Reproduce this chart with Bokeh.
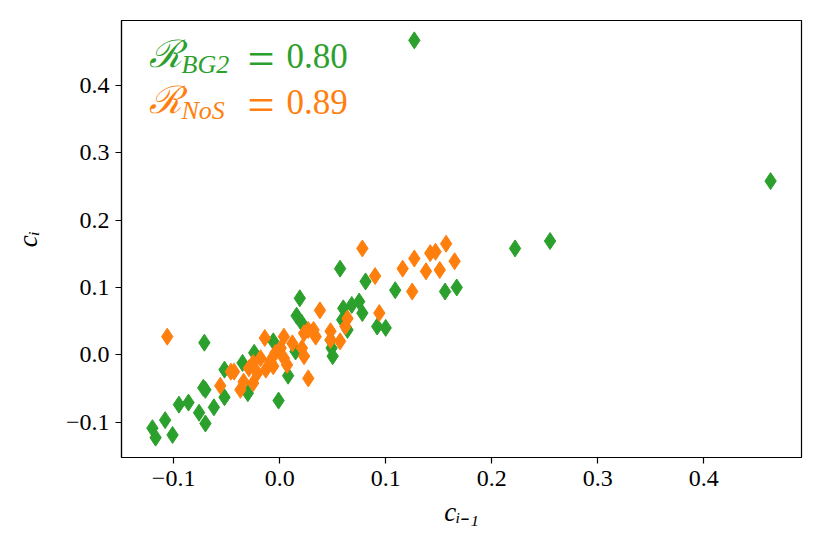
from bokeh.plotting import figure
from bokeh.models import Label, FixedTicker, Range1d, ColumnDataSource
from bokeh.embed import file_html
from bokeh.resources import INLINE

# ---- data ----
bg2_prev = [0.127, 0.463, 0.255, 0.222, 0.167, 0.156, 0.109, 0.100, 0.092,
            0.081, 0.057, 0.060, 0.068, 0.075, 0.078, 0.059, 0.064, 0.048,
            0.049, 0.050, 0.019, 0.016, 0.021, 0.015, 0.008, -0.001, -0.006,
            -0.024, -0.035, -0.030, -0.052, -0.052, -0.062, -0.072, -0.070,
            -0.071, -0.076, -0.070, -0.086, -0.095, -0.101, -0.108, -0.117,
            -0.120]
bg2_curr = [0.467, 0.258, 0.169, 0.158, 0.100, 0.094, 0.096, 0.040, 0.042,
            0.109, 0.128, 0.069, 0.074, 0.079, 0.062, 0.052, 0.037, 0.022,
            0.010, -0.002, 0.084, 0.058, 0.047, 0.005, -0.031, -0.068, 0.020,
            0.003, -0.012, -0.057, -0.022, -0.063, -0.078, -0.049, -0.052,
            0.018, -0.086, -0.102, -0.071, -0.074, -0.119, -0.097, -0.123,
            -0.109]

nos_prev = [-0.106, -0.056, -0.046, -0.037, -0.034, -0.025, -0.043, -0.029,
            -0.025, -0.021, -0.018, -0.013, -0.014, -0.009, -0.006, -0.004,
            0.001, 0.004, 0.004, 0.007, 0.012, 0.021, 0.023, 0.023, 0.027,
            0.032, 0.034, 0.027, 0.038, 0.048, 0.048, 0.057, 0.062, 0.064,
            0.078, 0.090, 0.094, 0.116, 0.125, 0.127, 0.138, 0.142, 0.147,
            0.151, 0.157, 0.165]
nos_curr = [0.027, -0.046, -0.025, -0.052, -0.040, -0.042, -0.025, -0.020,
            -0.012, -0.027, -0.005, -0.022, 0.025, -0.010, -0.017, 0.003,
            0.010, 0.027, -0.005, -0.015, 0.017, 0.010, -0.002, 0.032, 0.037,
            0.037, 0.027, -0.035, 0.066, 0.035, 0.022, 0.020, 0.042, 0.054,
            0.158, 0.117, 0.062, 0.128, 0.094, 0.143, 0.124, 0.151, 0.153,
            0.126, 0.165, 0.139]

x_ticks = [-0.1, 0.0, 0.1, 0.2, 0.3, 0.4]
x_tick_labels = ["\u22120.1", "0.0", "0.1", "0.2", "0.3", "0.4"]
y_ticks = [-0.1, 0.0, 0.1, 0.2, 0.3, 0.4]
y_tick_labels = ["\u22120.1", "0.0", "0.1", "0.2", "0.3", "0.4"]
x_title = "c\u1d62\u208b\u2081"
y_title = "c\u1d62"

series_names = ["BG2", "NoS"]
series_scores = ["0.80", "0.89"]
series_colors = ["#2ca02c", "#ff7f0e"]

# ---- figure ----
all_x = bg2_prev + nos_prev
all_y = bg2_curr + nos_curr
px = 0.05 * (max(all_x) - min(all_x))
py = 0.05 * (max(all_y) - min(all_y))

FRAME_BOTTOM = 457  # canvas y of the frame bottom (532 - 75)
p = figure(width=806, height=532, output_backend="svg", toolbar_location=None,
           x_range=Range1d(min(all_x) - px, max(all_x) + px),
           y_range=Range1d(min(all_y) - py, max(all_y) + py),
           min_border_left=121, min_border_right=5,
           min_border_top=20, min_border_bottom=75)
p.background_fill_color = "white"
p.border_fill_color = "white"
p.outline_line_color = "black"
p.outline_line_width = 1.2
p.grid.visible = False

serif = "Liberation Serif"
for ax, ticks, labels in ((p.xaxis[0], x_ticks, x_tick_labels),
                          (p.yaxis[0], y_ticks, y_tick_labels)):
    ax.ticker = FixedTicker(ticks=ticks)
    ax.major_label_overrides = {t: l for t, l in zip(ticks, labels)}
    ax.major_label_text_font = serif
    ax.major_label_text_font_size = "24px"
    ax.major_label_text_color = "black"
    ax.major_tick_in = 0
    ax.major_tick_out = 6
    ax.major_tick_line_width = 1.2
    ax.major_tick_line_color = "black"
    ax.minor_tick_line_color = None
    ax.axis_line_color = "black"
    ax.axis_line_width = 1.2
    ax.axis_label_text_font = serif
    ax.axis_label_text_font_style = "italic"
    ax.axis_label_text_font_size = "27px"
    ax.axis_label_text_color = "black"

p.xaxis[0].major_label_standoff = 7
p.yaxis[0].major_label_standoff = 6
p.xaxis[0].axis_label = x_title
p.xaxis[0].axis_label_standoff = 8
p.yaxis[0].axis_label = y_title
p.yaxis[0].axis_label_standoff = 20

src_bg2 = ColumnDataSource(dict(x=bg2_prev, y=bg2_curr))
src_nos = ColumnDataSource(dict(x=nos_prev, y=nos_curr))
p.scatter("x", "y", source=src_bg2, marker="diamond", size=17,
          fill_color=series_colors[0], line_color=series_colors[0], line_width=1)
p.scatter("x", "y", source=src_nos, marker="diamond", size=17,
          fill_color=series_colors[1], line_color=series_colors[1], line_width=1)

# ---- annotation text ----
def put(text, sx, baseline, fs, col, style="normal"):
    # empirical baseline correction of ~0.41 em for Label text
    p.add_layout(Label(x=sx, y=FRAME_BOTTOM - baseline + 0.41 * fs,
                       x_units="screen", y_units="screen", text=text,
                       text_font=serif, text_font_style=style,
                       text_font_size=f"{fs}px", text_color=col,
                       text_baseline="alphabetic", text_align="left"))

for i, (name, score, col) in enumerate(zip(series_names, series_scores, series_colors)):
    b = 69.5 + i * 46
    put("\u211b", 27, b, 38, col, "italic")
    put(name, 60, b + 5, 26, col, "italic")
    put("=", 126, b + 8.5, 48, col)
    put(score, 165, b, 35, col)

open("out.html", "w").write(file_html(p, INLINE))
